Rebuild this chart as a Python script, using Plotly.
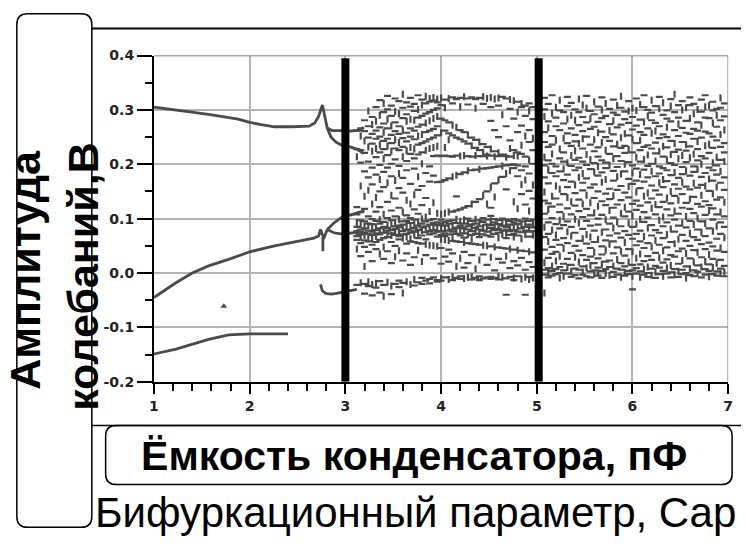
import plotly.graph_objects as go

# ---------------- data ----------------
X_TICKS = [1, 2, 3, 4, 5, 6, 7]
Y_TICKS = [-0.2, -0.1, 0.0, 0.1, 0.2, 0.3, 0.4]
Y_TICK_TEXT = ["-0.2", "-0.1", "0.0", "0.1", "0.2", "0.3", "0.4"]

# periodic branches (x in pF, y in V)
UP_X = [1.00, 1.23, 1.57, 1.88, 2.00, 2.12, 2.26, 2.45, 2.62, 2.68, 2.72, 2.76, 2.78, 2.81]
UP_Y = [0.305, 0.300, 0.292, 0.283, 0.277, 0.273, 0.269, 0.269, 0.270, 0.276, 0.288, 0.309, 0.292, 0.267]
FORK_A_X = [2.81, 2.86, 2.95, 3.05, 3.15, 3.19]
FORK_A_Y = [0.267, 0.262, 0.262, 0.261, 0.263, 0.268]
FORK_B_X = [2.81, 2.85, 2.90, 2.95, 3.05, 3.12, 3.19]
FORK_B_Y = [0.267, 0.250, 0.241, 0.236, 0.232, 0.228, 0.220]

LOW_X = [1.00, 1.23, 1.40, 1.57, 1.78, 2.00, 2.26, 2.50, 2.67, 2.72, 2.74, 2.76, 2.78, 2.81]
LOW_Y = [-0.045, -0.018, 0.000, 0.013, 0.025, 0.039, 0.050, 0.059, 0.064, 0.068, 0.080, 0.070, 0.066, 0.080]
SPIKE_X = [2.765, 2.765]
SPIKE_Y = [0.066, 0.040]
FORK_C_X = [2.81, 2.88, 2.95, 3.05, 3.15, 3.20]
FORK_C_Y = [0.080, 0.092, 0.101, 0.106, 0.112, 0.115]
FORK_D_X = [2.81, 2.88, 2.95, 3.05, 3.15, 3.20]
FORK_D_Y = [0.080, 0.074, 0.072, 0.073, 0.075, 0.076]

BOT_X = [1.00, 1.23, 1.57, 1.78, 2.00, 2.20, 2.40]
BOT_Y = [-0.149, -0.140, -0.122, -0.114, -0.112, -0.112, -0.112]

MID_X = [2.74, 2.76, 2.80, 2.86, 2.95, 3.05, 3.12]
MID_Y = [-0.021, -0.033, -0.038, -0.039, -0.036, -0.032, -0.030]

LONE_X = [1.73]
LONE_Y = [-0.061]

# thick vertical markers (pF)
MARK_X = [3.0, 5.02]

# chaotic region, columns of (x, amplitudes in mV)
CHAOS_A = [
    (3.12, [262, 228, 214, 121, 108, 93, 85, 77, 73, 68, 61, 44, -22]),
    (3.16, [266, 252, 226, 203, 160, 112, 97, 89, 80, 71, 66, 55, 31, -18]),
    (3.20, [281, 261, 243, 221, 187, 141, 118, 95, 86, 82, 74, 69, 60, 48, 12, -20, -38]),
    (3.24, [298, 270, 249, 232, 205, 176, 152, 104, 91, 87, 78, 72, 65, 58, 39, -16, -24]),
    (3.28, [287, 273, 256, 238, 224, 194, 163, 127, 99, 90, 83, 76, 70, 63, 52, 22, -21, -41]),
    (3.32, [305, 279, 262, 247, 229, 213, 181, 139, 113, 96, 84, 79, 73, 67, 57, 44, -19, -27]),
    (3.36, [318, 290, 268, 251, 236, 222, 199, 172, 150, 121, 98, 91, 82, 77, 71, 61, 35, -15, -36]),
    (3.40, [312, 296, 275, 259, 243, 228, 210, 186, 158, 108, 94, 85, 80, 74, 64, 48, 26, -22, -43]),
    (3.44, [326, 301, 283, 266, 247, 233, 217, 194, 166, 131, 101, 88, 83, 78, 72, 66, 40, -17]),
    (3.48, [308, 289, 271, 254, 239, 224, 201, 178, 143, 115, 97, 90, 79, 73, 69, 57, 18, -24, -39]),
    (3.52, [321, 297, 277, 261, 245, 229, 209, 170, 137, 104, 93, 86, 81, 76, 70, 50, 30, -20]),
    (3.56, [316, 293, 270, 256, 240, 226, 197, 183, 156, 120, 99, 87, 84, 75, 68, 62, 41, -14, -26]),
    (3.60, [329, 304, 285, 263, 248, 232, 214, 175, 148, 112, 95, 89, 82, 77, 71, 64, 23, -18, -37]),
    (3.64, [314, 292, 279, 258, 242, 225, 206, 189, 134, 106, 96, 88, 80, 72, 66, 54, 36, -16]),
    (3.68, [322, 306, 283, 266, 251, 231, 219, 164, 127, 101, 92, 85, 78, 74, 63, 58, 15, -21]),
    (3.72, [311, 298, 281, 262, 246, 228, 211, 192, 144, 117, 98, 90, 83, 76, 70, 57, 29, -12, -23]),
    (3.76, [327, 301, 286, 269, 252, 236, 218, 177, 153, 109, 94, 87, 79, 73, 64, 55, 42, -17]),
    (3.80, [319, 309, 289, 273, 255, 239, 222, 201, 160, 125, 100, 91, 84, 78, 69, 54, 21, -9, -20]),
    (3.84, [325, 312, 293, 276, 259, 242, 226, 184, 138, 103, 95, 86, 80, 75, 62, 53, 33, -14]),
    (3.88, [321, 315, 296, 280, 262, 246, 229, 196, 168, 113, 97, 89, 82, 77, 71, 51, -11, -19]),
    (3.92, [323, 317, 300, 284, 265, 249, 231, 215, 179, 129, 99, 92, 85, 79, 73, 50, 27, -8]),
    (3.96, [320, 314, 303, 288, 270, 253, 233, 216, 167, 110, 93, 88, 81, 76, 67, 49, -13, -16]),
]
CHAOS_B = [
    (4.00, [322, 309, 284, 258, 215, 168, 108, 98, 90, 84, 77, 70, 62, 46, 17, -10, -14]),
    (4.04, [319, 304, 281, 262, 231, 216, 171, 110, 94, 87, 82, 73, 68, 61, 30, -8]),
    (4.08, [321, 277, 257, 245, 215, 174, 112, 96, 91, 85, 78, 71, 60, 43, 21, -12]),
    (4.12, [323, 312, 272, 253, 214, 177, 113, 97, 88, 80, 76, 66, 59, 36, -7, -13]),
    (4.16, [320, 268, 249, 216, 180, 141, 115, 99, 92, 83, 79, 72, 58, 12, -9]),
    (4.20, [322, 306, 263, 246, 215, 182, 117, 95, 87, 84, 77, 69, 57, 27, -6, -11]),
    (4.24, [324, 259, 242, 216, 185, 120, 98, 91, 82, 78, 73, 65, 56, 39, 10, -10]),
    (4.28, [321, 310, 254, 238, 215, 188, 123, 100, 93, 86, 80, 71, 55, 18, -8]),
    (4.32, [323, 249, 234, 214, 189, 127, 96, 89, 85, 77, 70, 63, 54, 33, -7, -12]),
    (4.36, [320, 303, 245, 230, 216, 190, 131, 99, 91, 83, 79, 72, 53, 8, -9]),
    (4.40, [322, 241, 226, 215, 191, 136, 97, 92, 86, 80, 74, 66, 52, 24, -6, -13]),
    (4.44, [324, 311, 237, 222, 215, 192, 143, 101, 94, 84, 78, 71, 51, 34, -10]),
    (4.48, [321, 232, 218, 215, 193, 150, 127, 98, 89, 85, 76, 69, 50, 15, -8]),
    (4.52, [323, 305, 280, 228, 216, 194, 158, 120, 105, 96, 88, 83, 77, 67, 49, 29, -7, -11]),
    (4.56, [320, 263, 224, 214, 195, 165, 140, 99, 93, 86, 79, 72, 48, 5, -9]),
    (4.60, [322, 308, 250, 221, 215, 196, 171, 97, 90, 84, 81, 74, 65, 47, 26, -6, -12]),
    (4.64, [324, 291, 218, 216, 197, 177, 100, 92, 87, 78, 71, 46, 19, -8]),
    (4.68, [321, 270, 213, 215, 198, 183, 154, 98, 91, 85, 80, 73, 64, 45, 31, -10, -40]),
    (4.72, [319, 302, 244, 229, 214, 199, 188, 96, 89, 82, 77, 70, 44, 9, -7]),
    (4.76, [317, 284, 226, 216, 200, 193, 131, 99, 93, 86, 79, 72, 66, 43, 22, -9, -13]),
    (4.80, [315, 296, 259, 222, 215, 198, 178, 118, 97, 90, 84, 76, 69, 42, 14, -6]),
    (4.84, [312, 305, 271, 235, 219, 189, 163, 145, 95, 88, 82, 75, 63, 41, 28, -11]),
    (4.88, [308, 289, 252, 214, 196, 171, 126, 100, 92, 85, 78, 71, 40, 6, -8, -40]),
    (4.92, [312, 298, 263, 241, 208, 183, 151, 114, 96, 89, 83, 76, 67, 39, 20, -7, -12]),
    (4.96, [305, 283, 248, 226, 201, 162, 137, 98, 90, 84, 77, 70, 38, 11, -9]),
]
CHAOS_C = [
    (5.08, [322, 301, 288, 259, 241, 213, 198, 176, 149, 133, 109, 84, 66, 43, 19, 6, -3, -37]),
    (5.12, [311, 279, 267, 232, 207, 190, 165, 128, 117, 93, 72, 58, 28, 9, 1, -8]),
    (5.16, [327, 294, 252, 236, 219, 201, 184, 141, 122, 101, 79, 48, 35, 13, 4, -5]),
    (5.20, [305, 286, 270, 244, 196, 178, 160, 137, 90, 70, 61, 39, 22, 7, -2]),
    (5.24, [318, 299, 263, 228, 211, 187, 154, 126, 112, 97, 82, 52, 31, 11, 0, -9]),
    (5.28, [296, 275, 248, 222, 205, 192, 171, 145, 104, 88, 64, 45, 17, 5, -6]),
    (5.32, [324, 307, 283, 257, 239, 203, 181, 158, 139, 119, 95, 76, 55, 26, 10, -1]),
    (5.36, [313, 290, 266, 234, 216, 197, 168, 131, 108, 85, 68, 37, 15, 3, -7]),
    (5.40, [301, 281, 254, 242, 225, 208, 189, 162, 147, 124, 99, 74, 50, 29, 8, -4]),
    (5.44, [320, 296, 272, 238, 212, 194, 176, 135, 114, 92, 59, 41, 20, 6, -10]),
    (5.48, [309, 287, 261, 247, 229, 205, 183, 166, 152, 127, 103, 81, 63, 33, 12, 2, -3]),
    (5.52, [326, 303, 277, 251, 218, 199, 174, 143, 118, 96, 71, 54, 24, 9, -6]),
    (5.56, [298, 284, 265, 236, 209, 191, 157, 129, 106, 87, 66, 46, 30, 14, 3, -8]),
    (5.60, [315, 292, 269, 245, 224, 202, 186, 163, 138, 111, 78, 57, 38, 18, 5, -2]),
    (5.64, [306, 278, 258, 231, 214, 196, 179, 150, 123, 100, 89, 62, 27, 10, 0, -5]),
    (5.68, [323, 300, 285, 260, 240, 207, 185, 167, 132, 107, 75, 49, 34, 16, 4, -9]),
    (5.72, [312, 289, 250, 226, 203, 193, 172, 146, 125, 98, 80, 60, 42, 21, 7, -1]),
    (5.76, [302, 274, 262, 243, 219, 198, 155, 136, 115, 91, 69, 53, 23, 11, -4]),
    (5.80, [319, 295, 280, 255, 233, 210, 188, 170, 142, 120, 102, 83, 58, 36, 13, 2, -7]),
    (5.84, [308, 291, 268, 237, 215, 195, 177, 153, 126, 94, 73, 47, 25, 8, -3]),
    (5.88, [325, 304, 273, 249, 230, 206, 182, 160, 134, 110, 86, 65, 40, 18, 6, -8]),
    (5.92, [297, 283, 256, 234, 221, 200, 187, 148, 121, 104, 77, 56, 32, 12, 1, -5]),
    (5.96, [316, 298, 276, 253, 227, 204, 173, 159, 139, 113, 92, 70, 44, 20, 4, -2]),
]
CHAOS_D = [
    (6.00, [303, 287, 264, 246, 222, 198, 184, 164, 127, 105, 85, 63, 39, 15, 5, -6, -30]),
    (6.04, [321, 299, 271, 239, 213, 192, 170, 149, 133, 116, 90, 72, 51, 27, 9, -1]),
    (6.08, [310, 282, 259, 244, 226, 205, 181, 156, 124, 99, 78, 58, 35, 16, 3, -8]),
    (6.12, [327, 305, 278, 254, 232, 209, 190, 168, 141, 112, 94, 67, 46, 22, 7, -3]),
    (6.16, [300, 289, 266, 235, 217, 197, 176, 147, 130, 102, 83, 55, 31, 11, 0, -7]),
    (6.20, [318, 295, 281, 257, 229, 201, 187, 161, 137, 119, 88, 69, 48, 24, 8, -4]),
    (6.24, [307, 276, 261, 240, 220, 206, 178, 152, 126, 108, 79, 60, 37, 13, 2, -9]),
    (6.28, [324, 302, 270, 248, 224, 196, 183, 166, 144, 121, 97, 74, 52, 28, 10, -2]),
    (6.32, [313, 291, 255, 233, 214, 193, 172, 158, 131, 103, 86, 64, 41, 19, 4, -6]),
    (6.36, [299, 284, 268, 250, 231, 208, 189, 169, 138, 117, 93, 71, 47, 25, 9, -1]),
    (6.40, [320, 307, 279, 243, 218, 202, 180, 150, 128, 106, 81, 57, 33, 14, 1, -8]),
    (6.44, [329, 296, 263, 238, 223, 199, 185, 163, 142, 114, 98, 76, 54, 30, 7, -3]),
    (6.48, [309, 286, 274, 252, 227, 210, 175, 155, 134, 109, 87, 62, 40, 17, 3, -7]),
    (6.52, [316, 300, 267, 241, 216, 195, 182, 167, 145, 120, 92, 70, 45, 23, 6, -2]),
    (6.56, [304, 280, 258, 236, 225, 204, 188, 159, 129, 104, 84, 59, 36, 12, 0, -9]),
    (6.60, [323, 309, 284, 256, 233, 212, 179, 154, 136, 118, 96, 73, 50, 27, 8, -4]),
    (6.64, [311, 293, 265, 247, 219, 196, 186, 165, 140, 110, 89, 66, 42, 20, 5, -6]),
    (6.68, [301, 277, 262, 242, 228, 207, 191, 157, 127, 101, 80, 61, 38, 14, 2, -1]),
    (6.72, [319, 297, 272, 249, 215, 200, 177, 162, 143, 122, 95, 75, 53, 29, 11, -8]),
    (6.76, [327, 306, 286, 260, 234, 211, 184, 160, 132, 107, 91, 68, 44, 21, 7, -3]),
    (6.80, [308, 285, 257, 237, 221, 194, 173, 151, 125, 115, 82, 56, 34, 16, 4, -7]),
    (6.84, [315, 299, 276, 251, 230, 203, 189, 170, 146, 119, 98, 77, 49, 26, 10, -2]),
    (6.88, [302, 290, 269, 244, 213, 198, 181, 158, 135, 108, 86, 63, 41, 18, 3, -5]),
    (6.92, [322, 304, 281, 255, 232, 208, 187, 166, 139, 112, 93, 72, 46, 24, 8, -1]),
    (6.96, [312, 288, 263, 239, 222, 205, 176, 153, 130, 104, 85, 65, 39, 13, 2, -6]),
]

Y_TITLE_1 = "Амплитуда"
Y_TITLE_2 = "колебаний,В"
X_TITLE = "Ёмкость конденсатора, пФ"
SUB_TITLE = "Бифуркационный параметр, Сар"

# ---------------- figure ----------------
W, H = 746, 546
INK = "#4a4a4a"
FONT = "Liberation Sans, Arial"


def px(X):
    return X / W


def py(Y):
    return 1 - Y / H


def rounded_path(x0, y0, x1, y1, r):
    pts = [
        f"M {px(x0 + r)} {py(y0)}",
        f"L {px(x1 - r)} {py(y0)}",
        f"Q {px(x1)} {py(y0)} {px(x1)} {py(y0 + r)}",
        f"L {px(x1)} {py(y1 - r)}",
        f"Q {px(x1)} {py(y1)} {px(x1 - r)} {py(y1)}",
        f"L {px(x0 + r)} {py(y1)}",
        f"Q {px(x0)} {py(y1)} {px(x0)} {py(y1 - r)}",
        f"L {px(x0)} {py(y0 + r)}",
        f"Q {px(x0)} {py(y0)} {px(x0 + r)} {py(y0)}",
        "Z",
    ]
    return " ".join(pts)


fig = go.Figure()

line_style = dict(color=INK, width=2.8)
for xs, ys in [(UP_X, UP_Y), (FORK_A_X, FORK_A_Y), (FORK_B_X, FORK_B_Y),
               (LOW_X, LOW_Y), (SPIKE_X, SPIKE_Y), (FORK_C_X, FORK_C_Y),
               (FORK_D_X, FORK_D_Y), (BOT_X, BOT_Y), (MID_X, MID_Y)]:
    fig.add_trace(go.Scatter(x=xs, y=ys, mode="lines", line=line_style,
                             hoverinfo="skip", showlegend=False))

# dashes: mix of horizontal / vertical little strokes like the scanned dots
hx, hy, vx, vy = [], [], [], []
k = 0
for block in (CHAOS_A, CHAOS_B, CHAOS_C, CHAOS_D):
    for xv, vals in block:
        for v in vals:
            if k % 3 == 2:
                vx.append(xv)
                vy.append(v / 1000.0)
            else:
                hx.append(xv)
                hy.append(v / 1000.0)
            k += 1
fig.add_trace(go.Scatter(x=hx, y=hy, mode="markers",
                         marker=dict(symbol="line-ew", size=5, color=INK,
                                     line=dict(width=2.2, color=INK)),
                         hoverinfo="skip", showlegend=False))
fig.add_trace(go.Scatter(x=vx, y=vy, mode="markers",
                         marker=dict(symbol="line-ns", size=5, color=INK,
                                     line=dict(width=2.2, color=INK)),
                         hoverinfo="skip", showlegend=False))

fig.add_trace(go.Scatter(x=LONE_X, y=LONE_Y, mode="markers",
                         marker=dict(symbol="triangle-up", size=6, color=INK),
                         hoverinfo="skip", showlegend=False))

shapes = []
for mx in MARK_X:
    shapes.append(dict(type="line", xref="x", yref="y", x0=mx, x1=mx, y0=-0.2, y1=0.395,
                       line=dict(color="black", width=8), layer="above"))
# frame top / right
shapes.append(dict(type="line", xref="x", yref="y", x0=1, x1=7, y0=0.4, y1=0.4,
                   line=dict(color="#555555", width=1.5), layer="above"))
shapes.append(dict(type="line", xref="x", yref="y", x0=7, x1=7, y0=-0.2, y1=0.4,
                   line=dict(color="#888888", width=1.5), layer="above"))
# decorative lines and boxes
shapes.append(dict(type="line", xref="paper", yref="paper", x0=px(88), x1=1.0,
                   y0=py(21), y1=py(21), line=dict(color="black", width=2)))
shapes.append(dict(type="line", xref="paper", yref="paper", x0=px(88), x1=1.0,
                   y0=py(430), y1=py(430), line=dict(color="black", width=1.5)))
shapes.append(dict(type="path", xref="paper", yref="paper",
                   path=rounded_path(12, 6, 88, 535, 11),
                   line=dict(color="black", width=1.5)))
shapes.append(dict(type="path", xref="paper", yref="paper",
                   path=rounded_path(102, 430, 737, 491, 11),
                   line=dict(color="black", width=1.5)))

annotations = [
    dict(text=Y_TITLE_1, x=px(20), y=py(270), xref="paper", yref="paper",
         textangle=-90, showarrow=False, xanchor="center", yanchor="middle",
         font=dict(family=FONT, size=43, color="black", weight="bold")),
    dict(text=Y_TITLE_2, x=px(79), y=py(276), xref="paper", yref="paper",
         textangle=-90, showarrow=False, xanchor="center", yanchor="middle",
         font=dict(family=FONT, size=43, color="black", weight="bold")),
    dict(text=X_TITLE, x=px(415), y=py(462), xref="paper", yref="paper",
         showarrow=False, xanchor="center", yanchor="middle",
         font=dict(family=FONT, size=41, color="black", weight="bold")),
    dict(text=SUB_TITLE, x=px(416), y=py(520), xref="paper", yref="paper",
         showarrow=False, xanchor="center", yanchor="middle",
         font=dict(family=FONT, size=42, color="black")),
]

tick_font = dict(family="DejaVu Sans", size=14, color="#222222", weight="bold")

fig.update_layout(
    width=W, height=H, autosize=False,
    margin=dict(l=0, r=0, t=0, b=0, pad=0),
    paper_bgcolor="white", plot_bgcolor="white",
    showlegend=False,
    shapes=shapes, annotations=annotations,
    xaxis=dict(domain=[px(151), px(733)], range=[1, 7], tickvals=X_TICKS,
               ticks="outside", ticklen=10, tickwidth=1.5, tickcolor="black",
               showline=True, linecolor="black", linewidth=2,
               showgrid=True, gridcolor="#b3b3b3", gridwidth=2,
               zeroline=False, tickfont=tick_font,
               minor=dict(dtick=0.2, ticks="outside", ticklen=7, tickwidth=1.5,
                          tickcolor="black", showgrid=False)),
    yaxis=dict(domain=[py(385), py(49)], range=[-0.2, 0.4], tickvals=Y_TICKS,
               ticktext=Y_TICK_TEXT,
               ticks="outside", ticklen=15, tickwidth=1.5, tickcolor="black",
               showline=True, linecolor="black", linewidth=2,
               showgrid=True, gridcolor="#b3b3b3", gridwidth=2,
               zeroline=False, tickfont=tick_font,
               minor=dict(dtick=0.05, ticks="outside", ticklen=7, tickwidth=1.5,
                          tickcolor="black", showgrid=False)),
)

fig.write_html("out.html")
